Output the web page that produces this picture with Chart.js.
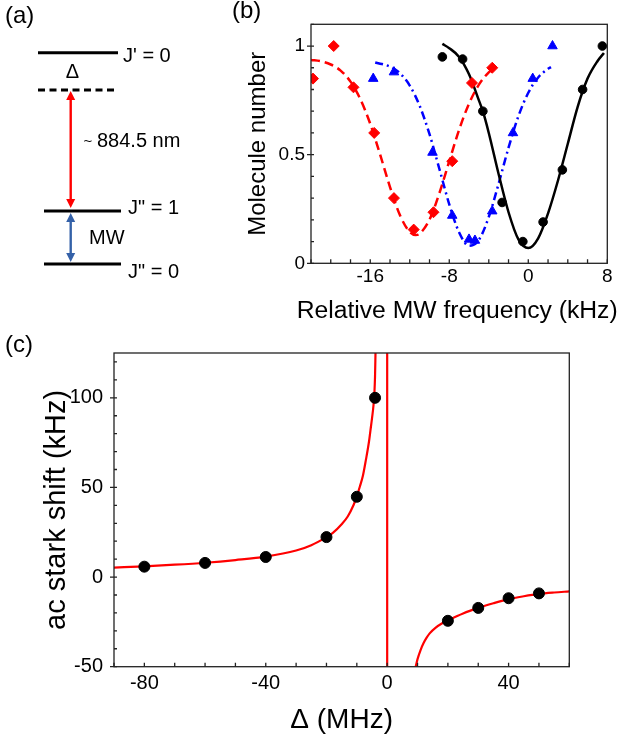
<!DOCTYPE html>
<html>
<head>
<meta charset="utf-8">
<script src="https://cdn.jsdelivr.net/npm/chart.js@4.4.1/dist/chart.umd.min.js"></script>
<style>
  html, body { margin: 0; padding: 0; background: #fff; }
  #wrap { position: relative; width: 621px; height: 739px; overflow: hidden; }
  canvas { position: absolute; }
  #chartA { left: 0; top: 0; }
  #chartB { left: 220px; top: 0; }
  #chartC { left: 0; top: 330px; }
</style>
</head>
<body>
<div id="wrap">
  <canvas id="chartA" width="220" height="300"></canvas>
  <canvas id="chartB" width="401" height="330"></canvas>
  <canvas id="chartC" width="621" height="409"></canvas>
</div>
<script>
// (a) level scheme, diagram units (top = 0)
const levelNames = ["J' = 0", '', 'J" = 1', 'J" = 0'];
const levelHeights = [52.7, 90, 211, 264];

// (b) MW spectra, relative frequency (kHz) vs molecule number
const bBlackX = [-8.7, -6.65, -4.6, -2.65, -0.55, 1.5, 3.45, 5.5, 7.5];
const bBlackY = [0.95, 0.94, 0.70, 0.28, 0.10, 0.19, 0.43, 0.80, 1.00];
const bBlueX = [-15.7, -13.6, -9.7, -7.7, -6.0, -5.4, -3.65, -1.55, 0.45, 2.45];
const bBlueY = [0.85, 0.88, 0.51, 0.22, 0.11, 0.105, 0.24, 0.60, 0.85, 1.00];
const bRedX = [-21.8, -19.7, -17.7, -15.6, -13.6, -11.6, -9.6, -7.7, -5.7, -3.65];
const bRedY = [0.85, 1.00, 0.81, 0.60, 0.30, 0.155, 0.235, 0.47, 0.83, 0.90];

const bBlackFitX = [-8.7, -8, -7, -6, -5, -4.6, -4, -3, -2, -1, 0, 1, 2, 3, 4, 5, 6, 7, 7.66];
const bBlackFitY = [1.01, 0.99, 0.95, 0.87, 0.75, 0.70, 0.60, 0.41, 0.235, 0.11, 0.07, 0.115, 0.23, 0.38, 0.55, 0.72, 0.85, 0.93, 0.968];
const bBlueFitX = [-15.5, -14, -13, -12, -11, -10, -9, -8, -7, -6, -5, -4, -3, -2, -1, 0, 1, 2, 2.3];
const bBlueFitY = [0.924, 0.905, 0.875, 0.818, 0.725, 0.594, 0.434, 0.271, 0.142, 0.081, 0.108, 0.213, 0.367, 0.532, 0.677, 0.785, 0.855, 0.895, 0.903];
const bRedFitX = [-22, -21, -20, -19, -18, -17, -16, -15, -14, -13, -12, -11.4, -11, -10, -9, -8, -7, -6, -5, -4, -3.4];
const bRedFitY = [0.936, 0.93, 0.915, 0.887, 0.836, 0.755, 0.642, 0.5, 0.351, 0.222, 0.144, 0.13, 0.136, 0.201, 0.323, 0.47, 0.615, 0.735, 0.822, 0.879, 0.90];

const bTickX = [-16, -8, 0, 8];
const bTickY = [0, 0.5, 1];

// (c) ac Stark shift (kHz) vs detuning (MHz)
const cDeltaX = [-80, -60, -40, -20, -10, -4, 20, 30, 40, 50];
const cShiftY = [5.8, 7.9, 11.2, 22.3, 44.8, 100, -24.4, -17.2, -11.8, -9.1];

const cFitLeftX = [-90, -80, -70, -60, -50, -40, -30, -25, -20, -18, -15, -13, -11, -10, -9, -8, -7, -6, -5.5, -5, -4.5, -4.2, -4.0, -3.85];
const cFitLeftY = [5.3, 6.0, 6.9, 8.0, 9.5, 11.4, 14.8, 17.8, 22.3, 24.5, 29.5, 33.8, 40.5, 45, 50.5, 56.5, 65.5, 75.5, 82, 88.5, 96, 103, 112, 125];
const cFitRightX = [9.4, 10, 11, 12, 13, 14, 16, 18, 20, 25, 30, 35, 40, 45, 50, 55, 60];
const cFitRightY = [-50, -45.8, -40.7, -36.8, -33.8, -31.4, -28.2, -25.9, -24.2, -20.3, -17.2, -14.6, -12.3, -10.7, -9.4, -8.6, -8.0];
const cPoleX = [0, 0];
const cPoleY = [-50, 125];

const cTickX = [-80, -40, 0, 40];
const cTickY = [-50, 0, 50, 100];

Chart.defaults.font.family = '"Liberation Sans", Arial, sans-serif';
Chart.defaults.color = '#000';

const FONT = '"Liberation Sans", Arial, sans-serif';

function xy(xs, ys) {
    return xs.map((v, i) => ({ x: v, y: ys[i] }));
}

function pts(xs, ys, color, style, r) {
    return {
        data: xy(xs, ys), showLine: false, pointStyle: style, pointRadius: r,
        backgroundColor: color, borderColor: color, borderWidth: 1
    };
}

function fit(xs, ys, color, dash, w) {
    return {
        data: xy(xs, ys), showLine: true, borderColor: color, borderWidth: w,
        borderDash: dash, pointRadius: 0, cubicInterpolationMode: 'monotone', fill: false
    };
}

// frame + minor/major tick marks drawn from the scales
const frameTicks = {
    id: 'frameTicks',
    afterDraw(chart, args, opts) {
        const { ctx, chartArea: a, scales: { x, y } } = chart;
        ctx.save();
        ctx.strokeStyle = '#222';
        ctx.lineWidth = 1.3;
        ctx.strokeRect(a.left, a.top, a.right - a.left, a.bottom - a.top);
        ctx.beginPath();
        for (let i = Math.ceil(x.min / opts.xMinor); i <= Math.floor(x.max / opts.xMinor + 1e-9); i++) {
            const px = x.getPixelForValue(i * opts.xMinor);
            ctx.moveTo(px, a.bottom);
            ctx.lineTo(px, a.bottom - 4);
        }
        for (let i = Math.ceil(y.min / opts.yMinor - 1e-9); i <= Math.floor(y.max / opts.yMinor + 1e-9); i++) {
            const py = y.getPixelForValue(i * opts.yMinor);
            ctx.moveTo(a.left, py);
            ctx.lineTo(a.left + 3, py);
        }
        y.ticks.forEach(t => {
            const py = y.getPixelForValue(t.value);
            ctx.moveTo(a.left - 4, py);
            ctx.lineTo(a.left, py);
        });
        ctx.stroke();
        ctx.restore();
    }
};

// panel letter, plus an x title that may be wider than the plot box
const panelLabel = {
    id: 'panelLabel',
    afterDraw(chart, args, opts) {
        const ctx = chart.ctx;
        ctx.save();
        ctx.font = '24px ' + FONT;
        ctx.fillStyle = '#000';
        ctx.textBaseline = 'middle';
        ctx.textAlign = 'left';
        ctx.fillText(opts.text, opts.x, opts.y);
        if (opts.xTitle) {
            const a = chart.chartArea;
            ctx.font = opts.xTitleSize + 'px ' + FONT;
            ctx.textAlign = 'center';
            ctx.fillText(opts.xTitle, (a.left + a.right) / 2 - 2, opts.xTitleY);
        }
        ctx.restore();
    }
};

function linAxis(min, max, ticks, fontSize, pad, title, titleSize, titlePad, fitFn) {
    return {
        type: 'linear', min: min, max: max,
        afterBuildTicks: s => { s.ticks = ticks.map(v => ({ value: v })); },
        afterFit: fitFn,
        grid: { display: false, drawTicks: false },
        border: { display: false },
        ticks: { font: { size: fontSize }, color: '#000', padding: pad, callback: v => String(v) },
        title: { display: title !== '', text: title, color: '#000', font: { size: titleSize }, padding: titlePad }
    };
}

// ---------- (a) level diagram ----------
const levelSpans = [[38, 118], [38, 118], [44, 121], [44, 121]];

function vArrow(ctx, x, y0, y1, color) {
    const hl = 9, hw = 4.5;
    ctx.strokeStyle = color;
    ctx.fillStyle = color;
    ctx.lineWidth = 2.4;
    ctx.beginPath();
    ctx.moveTo(x, y0 + hl - 1);
    ctx.lineTo(x, y1 - hl + 1);
    ctx.stroke();
    ctx.beginPath();
    ctx.moveTo(x, y0); ctx.lineTo(x - hw, y0 + hl); ctx.lineTo(x + hw, y0 + hl);
    ctx.closePath(); ctx.fill();
    ctx.beginPath();
    ctx.moveTo(x, y1); ctx.lineTo(x - hw, y1 - hl); ctx.lineTo(x + hw, y1 - hl);
    ctx.closePath(); ctx.fill();
}

const diagram = {
    id: 'diagram',
    afterDatasetsDraw(chart) {
        const { ctx, scales: { x, y } } = chart;
        const ax = x.getPixelForValue(70.7);
        const py = levelHeights.map(v => y.getPixelForValue(v));
        ctx.save();
        vArrow(ctx, ax, py[1] + 1, py[2] - 3, '#ff0000');
        vArrow(ctx, ax, py[2] + 2, py[3] - 2, '#3461a8');
        ctx.fillStyle = '#000';
        ctx.textBaseline = 'middle';
        ctx.font = '20px ' + FONT;
        ctx.fillText(levelNames[0], x.getPixelForValue(123), py[0] + 4);
        ctx.fillText(levelNames[2], x.getPixelForValue(128), py[2] - 3);
        ctx.fillText(levelNames[3], x.getPixelForValue(128), py[3] + 8.5);
        ctx.fillText('MW', x.getPixelForValue(89), y.getPixelForValue(238));
        ctx.fillText('884.5 nm', x.getPixelForValue(97), y.getPixelForValue(141));
        ctx.textAlign = 'center';
        ctx.fillText('\u0394', x.getPixelForValue(72.5), y.getPixelForValue(72.5));
        ctx.font = '15px ' + FONT;
        ctx.fillText('~', x.getPixelForValue(88), y.getPixelForValue(142));
        ctx.restore();
    }
};

new Chart(document.getElementById('chartA'), {
    type: 'scatter',
    data: {
        datasets: levelHeights.map((h, i) => ({
            data: [{ x: levelSpans[i][0], y: h }, { x: levelSpans[i][1], y: h }],
            showLine: true, borderColor: '#000', borderWidth: 3, pointRadius: 0,
            borderDash: levelNames[i] === '' ? [7, 4.5] : []
        }))
    },
    options: {
        responsive: false, animation: false,
        layout: { padding: 0 },
        plugins: { legend: { display: false }, tooltip: { enabled: false },
            panelLabel: { text: '(a)', x: 5, y: 16 } },
        scales: {
            x: { type: 'linear', min: 0, max: 220, display: false },
            y: { type: 'linear', min: 0, max: 300, reverse: true, display: false }
        }
    },
    plugins: [diagram, panelLabel]
});

// ---------- (b) spectra ----------
new Chart(document.getElementById('chartB'), {
    type: 'scatter',
    data: {
        datasets: [
            pts(bBlackX, bBlackY, '#000', 'circle', 4.3),
            pts(bBlueX, bBlueY, '#0000ff', 'triangle', 5.5),
            pts(bRedX, bRedY, '#ff0000', 'rectRot', 5.5),
            fit(bBlackFitX, bBlackFitY, '#000', [], 2.5),
            fit(bBlueFitX, bBlueFitY, '#0000ff', [8, 4, 2, 4], 2.5),
            fit(bRedFitX, bRedFitY, '#ff0000', [9, 5], 2.5)
        ]
    },
    options: {
        responsive: false, animation: false,
        layout: { padding: { left: 0, right: 13.7, top: 24.3, bottom: 0 } },
        plugins: { legend: { display: false }, tooltip: { enabled: false },
            frameTicks: { xMinor: 2, yMinor: 0.1 },
            panelLabel: { text: '(b)', x: 12, y: 11,
                xTitle: 'Relative MW frequency (kHz)', xTitleSize: 24.7, xTitleY: 311 } },
        scales: {
            x: linAxis(-22, 8, bTickX, 19, 2, '', 24,
                { top: 0, bottom: 0 }, s => { s.height = 66.7; }),
            y: linAxis(0, 1.1, bTickY, 19, 6, 'Molecule number', 24,
                { top: 23.6, bottom: 0 }, s => { s.width = 91; })
        }
    },
    plugins: [frameTicks, panelLabel]
});

// ---------- (c) ac Stark shift ----------
new Chart(document.getElementById('chartC'), {
    type: 'scatter',
    data: {
        datasets: [
            pts(cDeltaX, cShiftY, '#000', 'circle', 5.5),
            fit(cFitLeftX, cFitLeftY, '#ff0000', [], 2.2),
            fit(cFitRightX, cFitRightY, '#ff0000', [], 2.2),
            fit(cPoleX, cPoleY, '#ff0000', [], 2.2)
        ]
    },
    options: {
        responsive: false, animation: false,
        layout: { padding: { left: 0, right: 51.7, top: 20.5, bottom: 0 } },
        plugins: { legend: { display: false }, tooltip: { enabled: false },
            frameTicks: { xMinor: 10, yMinor: 10 },
            panelLabel: { text: '(c)', x: 5, y: 15 } },
        scales: {
            x: linAxis(-90, 60, cTickX, 20, 5, '\u0394 (MHz)', 28,
                { top: 0, bottom: 2.2 }, s => { s.height = 72.3; }),
            y: linAxis(-50, 125, cTickY, 20, 11, 'ac stark shift (kHz)', 29,
                { top: 39.6, bottom: 0 }, s => { s.width = 114; })
        }
    },
    plugins: [frameTicks, panelLabel]
});
</script>
</body>
</html>
